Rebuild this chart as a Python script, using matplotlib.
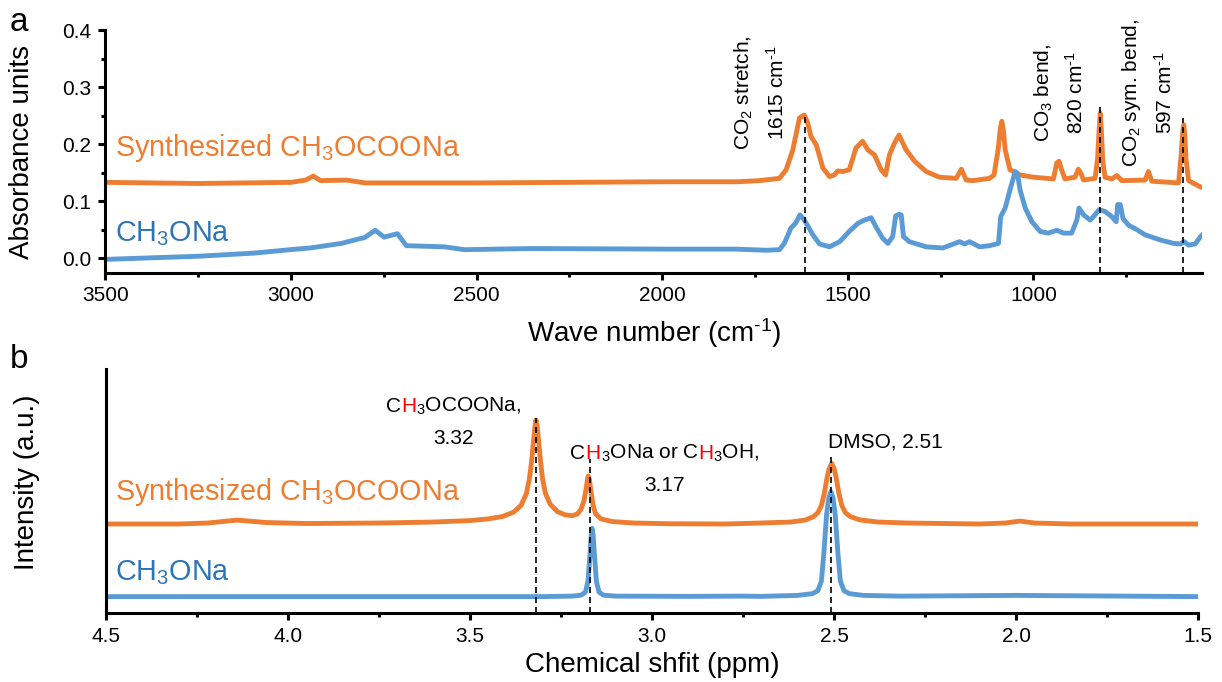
import matplotlib
matplotlib.use('Agg')
import matplotlib.pyplot as plt
from matplotlib.ticker import MultipleLocator, FormatStrFormatter, NullLocator

plt.rcParams['font.family'] = ['Liberation Sans', 'DejaVu Sans']
plt.rcParams['mathtext.fontset'] = 'custom'
plt.rcParams['mathtext.rm'] = 'Liberation Sans'
plt.rcParams['mathtext.it'] = 'Liberation Sans:italic'
plt.rcParams['mathtext.bf'] = 'Liberation Sans:bold'

ORANGE = '#ED7D31'
BLUE = '#5B9BD5'
BLUE_TXT = '#2E75B6'
RED = '#FF0000'
HY = '\u2010'  # plain hyphen in the superscripts, as in the original

# ---- panel a: FTIR ----
ir_wn_syn = [3500, 3250, 3000, 2960, 2940, 2920, 2850, 2800, 2500, 2000, 1800, 1738,
             1684, 1666, 1648, 1630, 1617, 1608, 1599, 1585, 1567, 1549, 1536, 1527,
             1513, 1496, 1478, 1460, 1446, 1428, 1410, 1398, 1388, 1374, 1362, 1343,
             1320, 1289, 1253, 1208, 1194, 1181, 1163, 1118, 1106, 1095, 1089, 1085,
             1081, 1076, 1063, 1036, 1000, 946, 937, 931, 924, 915, 888, 879, 872, 865,
             834, 827, 823, 820, 817, 813, 807, 789, 775, 762, 699, 690, 681, 609, 602,
             598, 595, 592, 589, 582, 550, 545]
ir_abs_syn = [0.133, 0.131, 0.133, 0.137, 0.144, 0.136, 0.137, 0.132, 0.132, 0.134, 0.134, 0.136,
              0.140, 0.155, 0.190, 0.246, 0.251, 0.237, 0.213, 0.199, 0.158, 0.143, 0.146, 0.153,
              0.152, 0.155, 0.193, 0.205, 0.190, 0.181, 0.155, 0.146, 0.181, 0.202, 0.216, 0.190,
              0.170, 0.152, 0.142, 0.140, 0.156, 0.137, 0.136, 0.140, 0.146, 0.190, 0.228, 0.240,
              0.225, 0.190, 0.155, 0.146, 0.142, 0.139, 0.167, 0.170, 0.155, 0.139, 0.142, 0.156,
              0.149, 0.137, 0.140, 0.175, 0.225, 0.254, 0.225, 0.170, 0.142, 0.139, 0.145, 0.136,
              0.137, 0.152, 0.135, 0.132, 0.180, 0.220, 0.234, 0.215, 0.175, 0.136, 0.125, 0.124]

ir_wn_meo = [3500, 3249, 3099, 3002, 2948, 2864, 2816, 2802, 2773, 2749, 2713, 2689, 2587,
             2533, 2352, 1999, 1804, 1719, 1684, 1671, 1653, 1640, 1629, 1617, 1594, 1576,
             1549, 1522, 1496, 1473, 1455, 1437, 1424, 1406, 1392, 1379, 1371, 1362, 1356,
             1350, 1334, 1289, 1244, 1199, 1185, 1172, 1145, 1118, 1094, 1088, 1076, 1063,
             1049, 1043, 1036, 1022, 1004, 982, 960, 937, 919, 897, 883, 877, 865, 847, 838,
             823, 807, 789, 777, 773, 766, 759, 744, 721, 699, 685, 658, 622, 604, 594, 582,
             564, 550, 545]
ir_abs_meo = [-0.002, 0.0035, 0.009, 0.015, 0.018, 0.026, 0.034, 0.036, 0.049, 0.037, 0.043,
              0.022, 0.020, 0.015, 0.017, 0.016, 0.016, 0.014, 0.015, 0.026, 0.053, 0.062,
              0.076, 0.067, 0.041, 0.025, 0.020, 0.029, 0.047, 0.061, 0.067, 0.071, 0.055,
              0.035, 0.026, 0.038, 0.074, 0.077, 0.076, 0.038, 0.029, 0.020, 0.018, 0.029,
              0.025, 0.029, 0.020, 0.022, 0.026, 0.073, 0.088, 0.120, 0.152, 0.149, 0.120,
              0.088, 0.064, 0.047, 0.044, 0.049, 0.044, 0.044, 0.067, 0.088, 0.076, 0.067,
              0.073, 0.085, 0.082, 0.073, 0.064, 0.094, 0.094, 0.070, 0.058, 0.050, 0.041,
              0.038, 0.032, 0.026, 0.025, 0.029, 0.023, 0.025, 0.038, 0.041]

ir_marks = [1615, 820, 597]
ir_mark_tops = [0.255, 0.272, 0.246]
ir_notes = ['CO$_2$ stretch,\n1615 cm$^{' + HY + '1}$',
            'CO$_3$ bend,\n820 cm$^{' + HY + '1}$',
            'CO$_2$ sym. bend,\n597 cm$^{' + HY + '1}$']
ir_note_x = [1735, 929, 691]

# ---- panel b: 1H NMR ----
nmr_ppm_syn = [4.5, 4.30, 4.22, 4.14, 4.06, 3.95, 3.75, 3.60, 3.50, 3.45, 3.41, 3.38,
               3.36, 3.345, 3.337, 3.331, 3.326, 3.322, 3.319, 3.316, 3.312, 3.307, 3.301,
               3.293, 3.28, 3.26, 3.24, 3.22, 3.205, 3.195, 3.187, 3.181, 3.177, 3.175,
               3.172, 3.168, 3.162, 3.155, 3.14, 3.11, 3.05, 2.95, 2.80, 2.70, 2.62, 2.58,
               2.557, 2.545, 2.535, 2.527, 2.520, 2.514, 2.507, 2.500, 2.494, 2.487, 2.479,
               2.469, 2.455, 2.43, 2.38, 2.30, 2.10, 2.03, 1.99, 1.95, 1.85, 1.5]
nmr_int_syn = [0.364, 0.364, 0.368, 0.380, 0.370, 0.366, 0.368, 0.372, 0.378, 0.385, 0.395,
               0.413, 0.440, 0.490, 0.550, 0.620, 0.700, 0.760, 0.791, 0.770, 0.710, 0.630,
               0.550, 0.490, 0.445, 0.415, 0.402, 0.398, 0.405, 0.425, 0.460, 0.510, 0.550,
               0.561, 0.545, 0.500, 0.440, 0.405, 0.385, 0.374, 0.368, 0.365, 0.364, 0.368,
               0.372, 0.380, 0.394, 0.410, 0.440, 0.490, 0.550, 0.590, 0.613, 0.590, 0.550,
               0.490, 0.440, 0.410, 0.394, 0.381, 0.372, 0.368, 0.364, 0.368, 0.376, 0.368,
               0.364, 0.364]

nmr_ppm_meo = [4.5, 3.30, 3.22, 3.195, 3.183, 3.176, 3.171, 3.167, 3.165, 3.162, 3.158,
               3.153, 3.146, 3.134, 3.10, 2.90, 2.75, 2.70, 2.60, 2.56, 2.545, 2.535, 2.528,
               2.521, 2.515, 2.509, 2.503, 2.497, 2.490, 2.483, 2.473, 2.458, 2.42, 2.32,
               2.0, 1.5]
nmr_int_meo = [0.066, 0.066, 0.068, 0.072, 0.085, 0.130, 0.230, 0.320, 0.346, 0.320, 0.230,
               0.130, 0.085, 0.072, 0.068, 0.067, 0.068, 0.067, 0.071, 0.078, 0.090, 0.130,
               0.250, 0.400, 0.470, 0.497, 0.470, 0.400, 0.250, 0.130, 0.090, 0.078, 0.071,
               0.068, 0.071, 0.066]

nmr_marks = [3.32, 3.17, 2.51]
nmr_mark_tops = [0.80, 0.631, 0.64]


def text_width(ax, s, size):
    r = ax.figure.canvas.get_renderer()
    t = ax.text(0, 0, s, fontsize=size, transform=None)
    w = t.get_window_extent(r).width
    t.remove()
    return w


def rich_line(ax, x, y, parts, size):
    """Centered one-line text made of differently coloured pieces."""
    px, py = ax.transData.transform((x, y))
    x0 = px - text_width(ax, ''.join(s for s, _ in parts), size) / 2
    prefix = ''
    for s, c in parts:
        off = text_width(ax, prefix + s, size) - text_width(ax, s, size) if prefix else 0
        ax.text(x0 + off, py, s, color=c, fontsize=size, transform=None,
                va='baseline', ha='left')
        prefix += s


fig = plt.figure(figsize=(12.22, 6.82), dpi=100)
W, H = 1222, 682
ax1 = fig.add_axes([105.3 / W, (H - 272.5) / H, 1097 / W, 242.5 / H])
ax2 = fig.add_axes([105.9 / W, (H - 612.7) / H, 1092.4 / W, 243.7 / H])

for ax in (ax1, ax2):
    for s in ('top', 'right'):
        ax.spines[s].set_visible(False)
    for s in ('left', 'bottom'):
        ax.spines[s].set_linewidth(2.2)
    ax.tick_params(which='major', direction='out', length=5, width=2.2, labelsize=15, pad=5)
    ax.tick_params(which='minor', direction='out', length=3, width=2.2)

# panel a
ax1.plot(ir_wn_syn, ir_abs_syn, color=ORANGE, lw=3.5, solid_joinstyle='round')
ax1.plot(ir_wn_meo, ir_abs_meo, color=BLUE, lw=3.5, solid_joinstyle='round')
ax1.set_xlim(3500, 545)
ax1.set_ylim(-0.025, 0.4)
ax1.xaxis.set_major_locator(MultipleLocator(500))
ax1.xaxis.set_minor_locator(MultipleLocator(250))
ax1.yaxis.set_major_locator(MultipleLocator(0.1))
ax1.yaxis.set_minor_locator(MultipleLocator(0.05))
ax1.yaxis.set_major_formatter(FormatStrFormatter('%.1f'))
ax1.set_xlabel('Wave number (cm$^{' + HY + '1}$)', fontsize=20, labelpad=8)
ax1.set_ylabel('Absorbance units', fontsize=20)
ax1.yaxis.set_label_coords((35 - 105.3) / 1097, 0.497)
for m, top in zip(ir_marks, ir_mark_tops):
    ax1.plot([m, m], [-0.025, top], color='k', lw=1.2, linestyle=(0, (3.6, 2.4)))
for x, s in zip(ir_note_x, ir_notes):
    ax1.text(x, 0.29, s, rotation=90, ha='center', va='center', multialignment='center',
             fontsize=15, linespacing=1.6)
ax1.text(3474, 0.18, 'Synthesized CH$_3$OCOONa', color=ORANGE, fontsize=20.7, va='baseline')
ax1.text(3474, 0.029, 'CH$_3$ONa', color=BLUE_TXT, fontsize=20.7, va='baseline')

# panel b
ax2.plot(nmr_ppm_syn, nmr_int_syn, color=ORANGE, lw=3.5, solid_joinstyle='round')
ax2.plot(nmr_ppm_meo, nmr_int_meo, color=BLUE, lw=3.5, solid_joinstyle='round')
ax2.set_xlim(4.5, 1.5)
ax2.set_ylim(0, 1)
ax2.xaxis.set_major_locator(MultipleLocator(0.5))
ax2.xaxis.set_minor_locator(MultipleLocator(0.25))
ax2.xaxis.set_major_formatter(FormatStrFormatter('%.1f'))
ax2.yaxis.set_major_locator(NullLocator())
ax2.set_xlabel('Chemical shfit (ppm)', fontsize=20, labelpad=4.5)
ax2.set_ylabel('Intensity (a.u.)', fontsize=20)
ax2.yaxis.set_label_coords((40 - 105.9) / 1092.4, 0.536)
for m, top in zip(nmr_marks, nmr_mark_tops):
    ax2.plot([m, m], [0, top], color='k', lw=1.2, linestyle=(0, (3.6, 2.4)))
ax2.text(4.475, 0.462, 'Synthesized CH$_3$OCOONa', color=ORANGE, fontsize=20.7, va='baseline')
ax2.text(4.475, 0.134, 'CH$_3$ONa', color=BLUE_TXT, fontsize=20.7, va='baseline')

rich_line(ax2, 3.545, 0.824, [('C', 'k'), ('H', RED), ('$_3$OCOONa,', 'k')], 15)
rich_line(ax2, 3.545, 0.694, [('3.32', 'k')], 15)
rich_line(ax2, 2.966, 0.631, [('C', 'k'), ('H', RED), ('$_3$ONa or C', 'k'), ('H', RED),
                              ('$_3$OH,', 'k')], 15)
rich_line(ax2, 2.966, 0.501, [('3.17', 'k')], 15)
ax2.text(2.36, 0.677, 'DMSO, 2.51', fontsize=15, ha='center', va='baseline')

fig.text(10 / W, 1 - 31 / H, 'a', fontsize=24, va='baseline')
fig.text(10 / W, 1 - 368 / H, 'b', fontsize=24, va='baseline')

fig.savefig('out.png', dpi=100)
